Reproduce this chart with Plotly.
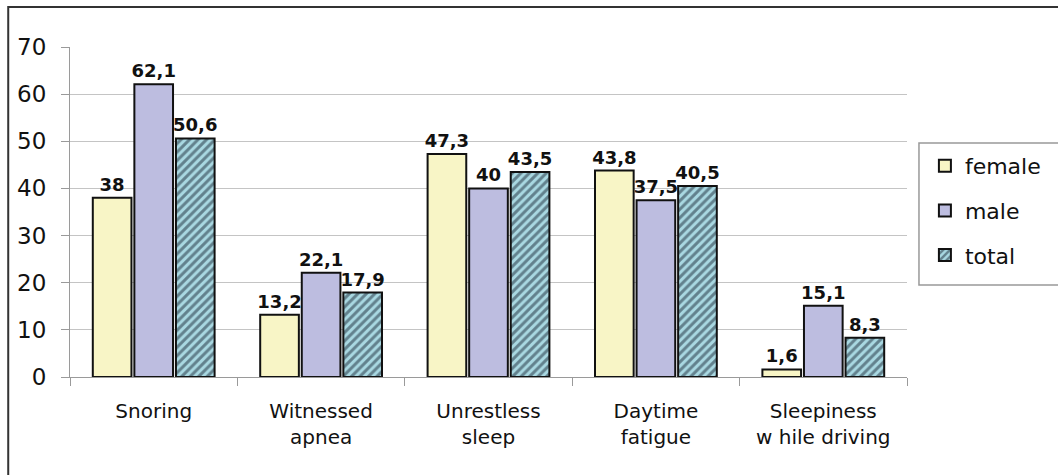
import plotly.graph_objects as go

categories = ["Snoring", "Witnessed<br>apnea", "Unrestless<br>sleep", "Daytime<br>fatigue",
              "Sleepiness<br>w hile driving"]
female = [38, 13.2, 47.3, 43.8, 1.6]
male = [62.1, 22.1, 40, 37.5, 15.1]
total = [50.6, 17.9, 43.5, 40.5, 8.3]
y_ticks = [0, 10, 20, 30, 40, 50, 60, 70]

FONT = "DejaVu Sans, Liberation Sans, Arial"


def fmt(v):
    s = f"{v:g}"
    return s.replace(".", ",")


series = [
    ("female", female, dict(color="#f8f5c6", line=dict(color="#111111", width=2))),
    ("male", male, dict(color="#bdbde0", line=dict(color="#111111", width=2))),
    ("total", total, dict(color="#a9d8e2", line=dict(color="#111111", width=2),
                          pattern=dict(shape="/", fgcolor="#1c2a38", bgcolor="#a9d8e2",
                                       size=6, solidity=0.5))),
]

fig = go.Figure()
for name, vals, marker in series:
    fig.add_trace(go.Bar(
        x=categories, y=vals, name=name, marker=marker,
        text=[fmt(v) for v in vals], textposition="outside", textangle=0,
        textfont=dict(family=FONT, size=18, color="#111111", weight="bold"),
        cliponaxis=False, legendgroup=name,
    ))

fig.update_layout(
    width=1058, height=475,
    margin=dict(l=70, r=148, t=47, b=98),
    paper_bgcolor="white", plot_bgcolor="white",
    barmode="group", bargap=0.255, bargroupgap=0.07,
    font=dict(family=FONT, color="#111111"),
    uniformtext=dict(minsize=18, mode="show"),
    showlegend=True,
    legend=dict(x=1.0214, xanchor="left", xref="paper", y=0.703, yanchor="top",
                font=dict(size=22, family=FONT, color="#111111"),
                traceorder="grouped", tracegroupgap=13, borderwidth=0,
                bgcolor="rgba(0,0,0,0)", itemwidth=30),
)

fig.update_yaxes(
    range=[0, 70], tickvals=y_ticks, ticktext=[str(t) for t in y_ticks],
    showgrid=True, gridcolor="#c4c4c4", gridwidth=1,
    showline=True, linecolor="#9a9a9a", linewidth=1,
    ticks="outside", ticklen=8, tickcolor="#9a9a9a",
    tickfont=dict(size=23, color="#111111"), ticklabelstandoff=10,
    zeroline=False,
)
fig.update_xaxes(
    showline=True, linecolor="#9a9a9a", linewidth=1,
    ticks="outside", ticklen=8, tickcolor="#9a9a9a", tickson="boundaries",
    tickfont=dict(size=20, color="#111111"), ticklabelstandoff=16,
)

# outer frame and legend box
fig.add_shape(type="rect", xref="paper", yref="paper",
              x0=-0.0738, x1=1.2, y0=-0.4, y1=1.1212,
              line=dict(color="#333333", width=2), fillcolor="rgba(0,0,0,0)")
fig.add_shape(type="rect", xref="paper", yref="paper",
              x0=1.0143, x1=1.2, y0=0.2788, y1=0.7091,
              line=dict(color="#999999", width=1.5), fillcolor="rgba(0,0,0,0)")

fig.write_html("out.html")
